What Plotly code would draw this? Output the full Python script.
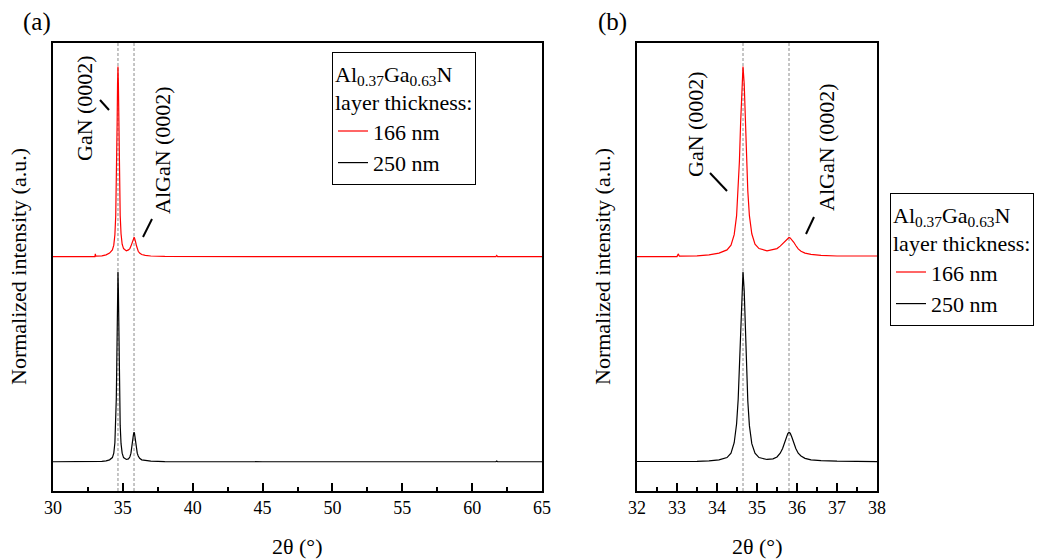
import plotly.graph_objects as go

W, H = 1044, 560

# 2θ sampling (degrees) and normalized intensities for the two samples
two_theta = [30.0, 31.0, 32.0, 32.5, 33.0, 33.03, 33.06, 33.5, 33.8, 34.05,
             34.25, 34.35, 34.43, 34.49, 34.53, 34.56, 34.59, 34.62, 34.65, 34.68,
             34.71, 34.74, 34.77, 34.81, 34.87, 34.95, 35.05, 35.25, 35.40, 35.50,
             35.58, 35.64, 35.69, 35.73, 35.77, 35.80, 35.83, 35.87, 35.92, 35.97,
             36.03, 36.10, 36.20, 36.35, 36.60, 37.0, 38.0, 40.0, 45.0, 50.0,
             55.0, 60.0, 61.70, 61.76, 61.82, 63.0, 65.0]

intensity_166nm = [0.0, 0.0, 0.0, 0.0, 0.0, 0.014, 0.002, 0.004, 0.009, 0.018,
                   0.035, 0.06, 0.115, 0.215, 0.345, 0.50, 0.70, 0.91, 1.00, 0.91,
                   0.70, 0.50, 0.345, 0.215, 0.12, 0.065, 0.042, 0.03, 0.035, 0.042,
                   0.055, 0.068, 0.08, 0.09, 0.097, 0.10, 0.098, 0.09, 0.075, 0.058,
                   0.04, 0.028, 0.018, 0.011, 0.006, 0.003, 0.001, 0.0, 0.0, 0.0,
                   0.0, 0.0, 0.0, 0.006, 0.0, 0.0, 0.0]

intensity_250nm = [0.0, 0.0, 0.0, 0.0, 0.0, 0.0, 0.0, 0.002, 0.005, 0.01,
                   0.022, 0.045, 0.10, 0.20, 0.33, 0.49, 0.69, 0.90, 1.00, 0.90,
                   0.68, 0.48, 0.32, 0.19, 0.095, 0.045, 0.022, 0.012, 0.015, 0.025,
                   0.045, 0.07, 0.10, 0.128, 0.148, 0.155, 0.15, 0.13, 0.098, 0.07,
                   0.045, 0.03, 0.018, 0.01, 0.006, 0.003, 0.001, 0.0, 0.0, 0.0,
                   0.0, 0.0, 0.0, 0.004, 0.0, 0.0, 0.0]

# vertical stacking offset of the thinner layer's pattern
offset_166nm = 1.08

# reference reflection positions (degrees)
gan_0002 = 34.65
algan_0002 = 35.80

series_names = ["166 nm", "250 nm"]
series_colors = ["#ff0000", "#000000"]

FONT = "Liberation Serif"


def px(x, y):
    return x / W, 1 - y / H


fig = go.Figure()

red_y = [v + offset_166nm for v in intensity_166nm]
series_y = [red_y, intensity_250nm]

for axis_suffix, legend_id in (("", "legend"), ("2", "legend2")):
    for name, color, ys in zip(series_names, series_colors, series_y):
        fig.add_trace(go.Scatter(
            x=two_theta, y=ys, mode="lines", name=name,
            line=dict(color=color, width=1.2),
            xaxis="x" + axis_suffix, yaxis="y" + axis_suffix,
            legend=legend_id, hoverinfo="skip",
        ))

y_range = [-0.154, 2.204]
axis_common = dict(
    showline=True, linecolor="black", linewidth=1.5, mirror=True,
    showgrid=False, zeroline=False,
    tickfont=dict(family=FONT, size=18, color="black"),
)

left_dom = [53 / W, 542 / W]
right_dom = [637 / W, 877 / W]
y_dom = [1 - 491 / H, 1 - 43 / H]

fig.update_layout(
    width=W, height=H,
    margin=dict(l=0, r=0, t=0, b=0, autoexpand=False),
    paper_bgcolor="white", plot_bgcolor="white",
    font=dict(family=FONT, color="black"),
    xaxis=dict(domain=left_dom, range=[30, 65], anchor="y",
               ticks="inside", ticklen=8, tickwidth=1.5, tickcolor="black", dtick=5, tick0=30,
               minor=dict(ticks="inside", ticklen=4, tickwidth=1.5, tickcolor="black", dtick=2.5),
               **axis_common),
    yaxis=dict(domain=y_dom, range=y_range, anchor="x",
               showticklabels=False, ticks="", **axis_common),
    xaxis2=dict(domain=right_dom, range=[32, 38], anchor="y2",
                ticks="inside", ticklen=8, tickwidth=1.5, tickcolor="black", dtick=1, tick0=32,
                minor=dict(ticks="inside", ticklen=4, tickwidth=1.5, tickcolor="black", dtick=0.5),
                **axis_common),
    yaxis2=dict(domain=y_dom, range=y_range, anchor="x2",
                showticklabels=False, ticks="", **axis_common),
)

legend_style = dict(
    bordercolor="black", borderwidth=1, bgcolor="white",
    font=dict(family=FONT, size=22, color="black"),
    title=dict(text="Al<sub>0.37</sub>Ga<sub>0.63</sub>N<br>layer thickness:",
               font=dict(family=FONT, size=22, color="black"), side="top"),
    xanchor="left", yanchor="top", tracegroupgap=0, itemwidth=30,
)
lx, ly = px(332, 52)
fig.update_layout(legend=dict(x=lx, y=ly, **legend_style))
lx2, ly2 = px(890, 193)
fig.update_layout(legend2=dict(x=lx2, y=ly2, **legend_style))

# dashed guides at the reflection positions
for xref, yref in (("x", "y"), ("x2", "y2")):
    for pos in (gan_0002, algan_0002):
        fig.add_shape(type="line", xref=xref, yref=yref + " domain",
                      x0=pos, x1=pos, y0=0, y1=1, layer="below",
                      line=dict(color="#8c8c8c", width=1, dash="3px,2px"))

# peak labels (rotated) with short leader strokes
peak_labels = [
    ("GaN (0002)", 85, 108, (100, 100), (109, 110)),
    ("AlGaN (0002)", 163, 150, (152, 219), (143, 237)),
    ("GaN (0002)", 695, 124, (710, 173), (727, 191)),
    ("AlGaN (0002)", 827, 147, (814, 217), (806, 234)),
]
for text, cx, cy, p0, p1 in peak_labels:
    ax_, ay_ = px(cx, cy)
    fig.add_annotation(text=text, x=ax_, y=ay_, xref="paper", yref="paper",
                       textangle=-90, showarrow=False, xanchor="center", yanchor="middle",
                       font=dict(family=FONT, size=22, color="black"))
    x0, y0 = px(*p0)
    x1, y1 = px(*p1)
    fig.add_shape(type="line", xref="paper", yref="paper", x0=x0, y0=y0, x1=x1, y1=y1,
                  line=dict(color="black", width=2))

# axis titles
for cx in ((53 + 542) / 2, (637 + 877) / 2):
    x, y = px(cx, 546)
    fig.add_annotation(text="2θ (°)", x=x, y=y, xref="paper", yref="paper",
                       showarrow=False, xanchor="center", yanchor="middle",
                       font=dict(family=FONT, size=22, color="black"))
for cx in (18, 602):
    x, y = px(cx, 267)
    fig.add_annotation(text="Normalized intensity (a.u.)", x=x, y=y, xref="paper", yref="paper",
                       textangle=-90, showarrow=False, xanchor="center", yanchor="middle",
                       font=dict(family=FONT, size=22, color="black"))

# panel tags
for tag, cx in (("(a)", 37), ("(b)", 612)):
    x, y = px(cx, 22)
    fig.add_annotation(text=tag, x=x, y=y, xref="paper", yref="paper",
                       showarrow=False, xanchor="center", yanchor="middle",
                       font=dict(family=FONT, size=25, color="black"))

fig.write_html("out.html")
